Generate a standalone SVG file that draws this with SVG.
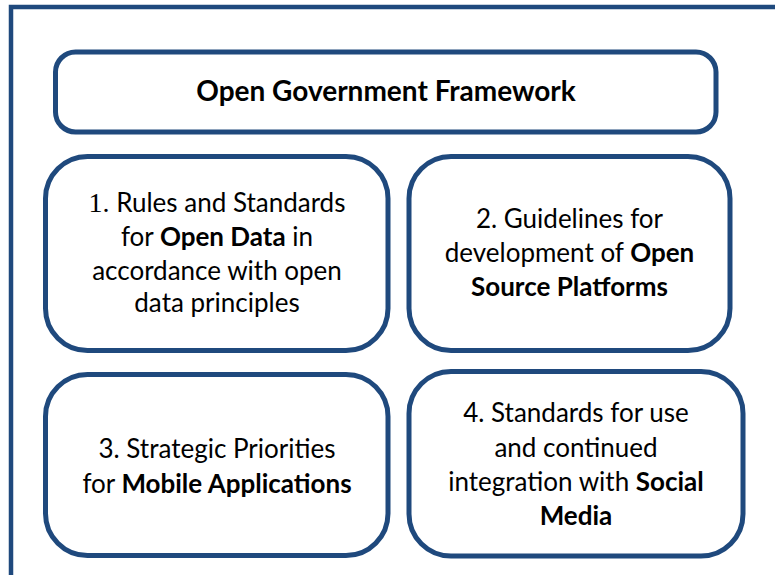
<svg xmlns="http://www.w3.org/2000/svg" width="775" height="575" viewBox="0 0 775 575">
<style>
.box{fill:#fff;stroke:#1F497D;stroke-width:5}
.t{font-family:Lato,"Open Sans",sans-serif;font-size:26px;fill:#000;text-anchor:middle}
.b{font-weight:bold}
.h{font-size:28px}
.n{font-family:"Liberation Serif",serif;font-size:28px}
</style>
<rect width="775" height="575" fill="#fff"/>
<rect x="11" y="7" width="800" height="600" fill="none" stroke="#1F497D" stroke-width="4.5"/>
<g id="title">
<rect class="box" x="55.5" y="52" width="660.5" height="80" rx="20"/>
<text class="t b h" x="386" y="101">Open Government Framework</text>
</g>
<g id="node1">
<rect class="box" x="45.5" y="156.5" width="342.5" height="194" rx="42"/>
<text class="t" x="217" y="212"><tspan class="n">1.</tspan> Rules and Standards</text>
<text class="t" x="217" y="246">for <tspan class="b">Open Data</tspan> in</text>
<text class="t" x="217" y="279.5">accordance with open</text>
<text class="t" x="217" y="312">data principles</text>
</g>
<g id="node2">
<rect class="box" x="409" y="156.5" width="321" height="194" rx="42"/>
<text class="t" x="569.5" y="228">2. Guidelines for</text>
<text class="t" x="569.5" y="262">development of <tspan class="b">Open</tspan></text>
<text class="t" x="569.5" y="295.5"><tspan class="b">Source Platforms</tspan></text>
</g>
<g id="node3">
<rect class="box" x="45.5" y="374.5" width="342.5" height="181" rx="42"/>
<text class="t" x="217" y="458">3. Strategic Priorities</text>
<text class="t" x="217" y="493">for <tspan class="b">Mobile Applications</tspan></text>
</g>
<g id="node4">
<rect class="box" x="409" y="371.5" width="334" height="184.5" rx="42"/>
<text class="t" x="576" y="422">4. Standards for use</text>
<text class="t" x="576" y="457">and continued</text>
<text class="t" x="576" y="491">integration with <tspan class="b">Social</tspan></text>
<text class="t" x="576" y="525"><tspan class="b">Media</tspan></text>
</g>
<g id="connectors"></g>
</svg>
